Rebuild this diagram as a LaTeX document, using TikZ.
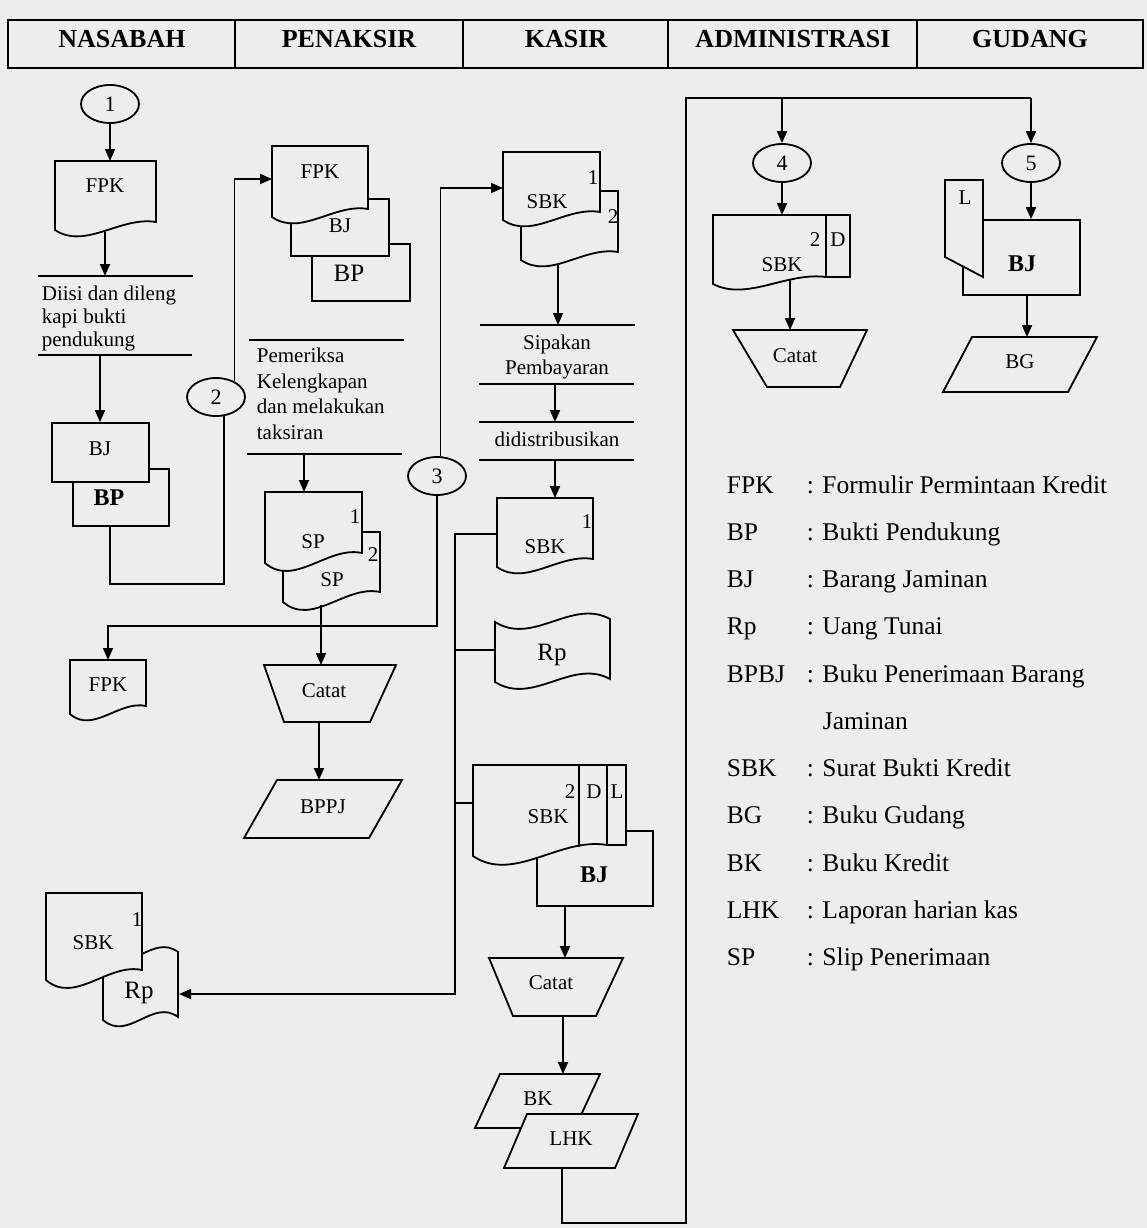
\documentclass[tikz,border=0pt]{standalone}
\usepackage{fontspec}
\setmainfont{Liberation Serif}
\usetikzlibrary{arrows.meta,shapes.geometric}
\definecolor{bg}{RGB}{237,238,236}
% document shape: x0, ytop, x1, y of left bottom corner, rise of right bottom corner
\newcommand\mydoc[5]{\filldraw[shp] (#1,#2) -- (#3,#2) -- (#3,{#4-#5}) .. controls ({#1+0.65*(#3-#1)},{#4-1.75*#5}) and ({#1+0.3*(#3-#1)},{#4+2.5*#5}) .. (#1,#4) -- cycle;}
% punched tape: x0, ytop, x1, ybottom, wave
\newcommand\mytape[5]{\filldraw[shp] (#1,#2) .. controls ({#1+(#3-#1)/3},{#2+#5}) and ({#1+2*(#3-#1)/3},{#2-#5}) .. (#3,{#2-3}) -- (#3,{#4-3}) .. controls ({#1+2*(#3-#1)/3},{#4-#5}) and ({#1+(#3-#1)/3},{#4+#5}) .. (#1,#4) -- cycle;}
% manual operation: x0, x1, ytop, ybottom, inset left, inset right
\newcommand\mytrap[6]{\filldraw[shp] (#1,#3) -- (#2,#3) -- ({#2-#6},#4) -- ({#1+#5},#4) -- cycle;}
% parallelogram: x top left, x top right, ytop, ybottom, skew
\newcommand\mypara[5]{\filldraw[shp] (#1,#3) -- (#2,#3) -- ({#2-#5},#4) -- ({#1-#5},#4) -- cycle;}
\begin{document}
\begin{tikzpicture}[x=1pt,y=-1pt,line width=1.8pt,
  every node/.style={font=\fontsize{21}{25}\selectfont,inner sep=0pt,text depth=0pt},
  shp/.style={draw=black,fill=bg,line width=1.8pt},
  rbox/.style={draw=black,fill=bg,line width=1.8pt,inner sep=0pt},
  conn/.style={draw=black,fill=bg,ellipse,line width=1.8pt,minimum width=58pt,minimum height=38pt,inner sep=0pt,font=\fontsize{22}{26}\selectfont},
  arr/.style={-{Triangle[length=12pt,width=10pt]}},
  hdr/.style={font=\fontsize{26}{30}\selectfont\bfseries},
  bigb/.style={font=\fontsize{24}{28}\selectfont\bfseries},
  bigr/.style={font=\fontsize{25}{28}\selectfont},
  leg/.style={font=\fontsize{25.5}{30}\selectfont,anchor=west}]
\useasboundingbox (0,0) rectangle (1147,1228);
\fill[bg] (0,0) rectangle (1147,1228);

% ---------- header ----------
\draw (8,20) rectangle (1143,68);
\foreach \xx in {235,463,668,917} \draw (\xx,20) -- (\xx,68);
\node[hdr] (hNas) at (122,39) {NASABAH};
\node[hdr] (hPen) at (349,39) {PENAKSIR};
\node[hdr] (hKas) at (566,39) {KASIR};
\node[hdr] (hAdm) at (793,39) {ADMINISTRASI};
\node[hdr] (hGud) at (1030,39) {GUDANG};

% ---------- NASABAH ----------
\node[conn] (c1) at (110,104) {1};
\mydoc{55}{161}{156}{230}{8}
\node (fpk1) at (105,186) {FPK};
\coordinate (fpk1t) at (110,161);
\coordinate (fpk1b) at (105,232);
\draw[arr] (c1.south) -- (fpk1t);
\coordinate (l1aL) at (38,276); \coordinate (l1aR) at (193,276);
\draw (l1aL) -- (l1aR);
\coordinate (l1a) at (105,276);
\draw[arr] (fpk1b) -- (l1a);
\node[anchor=north west,align=left,font=\fontsize{21}{23}\selectfont] (t1) at (41,285) {Diisi dan dileng\\kapi bukti\\pendukung};
\coordinate (l1bL) at (38,355); \coordinate (l1bR) at (192,355);
\draw (l1bL) -- (l1bR);
\coordinate (l1b) at (100,355);
\node[rbox,minimum width=96pt,minimum height=57pt] (bp1) at (121,497.5) {};
\node[rbox,minimum width=97pt,minimum height=59pt] (bj1) at (100.5,452.5) {};
\node (bj1l) at (100,449) {BJ};
\node[bigb] (bp1l) at (109,498) {BP};
\draw[arr] (l1b) -- (l1b |- bj1.north);
\node[conn] (c2) at (216,397) {2};
\coordinate (bp1b) at (110,526);
\coordinate (j2) at (110,584);
\draw (bp1b) -- (j2) -| (c2.-68);
\coordinate (fpk2a) at (272,179);
\draw[arr] (c2.40) |- (fpk2a);

% ---------- PENAKSIR ----------
\node[rbox,minimum width=98pt,minimum height=57pt] (bp2) at (361,272.5) {};
\node[rbox,minimum width=98pt,minimum height=57pt] (bj2) at (340,227.5) {};
\node[bigr] (bp2l) at (349,273) {BP};
\node (bj2l) at (340,226) {BJ};
\mydoc{272}{146}{368}{217}{8}
\node (fpk2) at (320,172) {FPK};
\coordinate (l2aL) at (249,340); \coordinate (l2aR) at (404,340);
\draw (l2aL) -- (l2aR);
\node[anchor=north west,align=left,font=\fontsize{21}{25.7}\selectfont] (t2) at (256,347) {Pemeriksa\\Kelengkapan\\dan melakukan\\taksiran};
\coordinate (l2bL) at (247,454); \coordinate (l2bR) at (402,454);
\draw (l2bL) -- (l2bR);
\coordinate (l2b) at (304,454);
\mydoc{283}{532}{380}{602}{10}
\node (sp2) at (332,580) {SP};
\node (sp2n) at (373,555) {2};
\mydoc{265}{492}{362}{563}{10}
\node (sp1) at (313,542) {SP};
\node (sp1n) at (355,517) {1};
\coordinate (sp1t) at (304,492);
\draw[arr] (l2b) -- (sp1t);
\coordinate (sp2b) at (321,605);
\mytrap{264}{396}{665}{722}{20}{26}
\node (cat1) at (324,691) {Catat};
\coordinate (cat1t) at (321,665);
\coordinate (cat1b) at (319,722);
\mypara{277}{402}{780}{838}{33}
\node (bppj) at (323,807) {BPPJ};
\coordinate (bppjt) at (319,780);
\draw[arr] (cat1b) -- (bppjt);

% ---------- NASABAH lower ----------
\mydoc{70}{660}{146}{714}{8}
\node (fpk3) at (108,685) {FPK};
\coordinate (fpk3t) at (108,660);
\node[conn] (c3) at (437,476) {3};
\coordinate (j3) at (108,626);
\draw[arr] (c3.south) |- (j3) -- (fpk3t);
\draw[arr] (sp2b) -- (cat1t);
\mytape{103}{955}{178}{1020}{22}
\node[bigr] (rp3) at (139,990) {Rp};
\mydoc{46}{893}{142}{980}{10}
\node (sbk4) at (93,943) {SBK};
\node (sbk4n) at (137,920) {1};
\coordinate (rp3r) at (179,994);

% ---------- KASIR ----------
\coordinate (sbk1a) at (503,188);
\draw[arr] (c3.80) |- (sbk1a);
\mydoc{521}{191}{618}{260}{8}
\node (sbk2n) at (613,217) {2};
\mydoc{503}{152}{600}{220}{8}
\node (sbk1) at (547,202) {SBK};
\node (sbk1n) at (593,178) {1};
\coordinate (sbk2b) at (558,264);
\coordinate (l3a) at (558,325);
\draw[arr] (sbk2b) -- (l3a);
\coordinate (l3aL) at (480,325); \coordinate (l3aR) at (635,325);
\draw (l3aL) -- (l3aR);
\node[anchor=north,align=center,font=\fontsize{21}{25}\selectfont] (t3) at (557,334) {Sipakan\\Pembayaran};
\coordinate (l3bL) at (479,384); \coordinate (l3bR) at (634,384);
\draw (l3bL) -- (l3bR);
\coordinate (l3cL) at (479,422); \coordinate (l3cR) at (634,422);
\draw (l3cL) -- (l3cR);
\draw[arr] (555,384) coordinate (l3b) -- (555,422) coordinate (l3c);
\node (t4) at (557,439) {didistribusikan};
\coordinate (l3dL) at (479,460); \coordinate (l3dR) at (634,460);
\draw (l3dL) -- (l3dR);
\mydoc{497}{498}{593}{567}{8}
\node (sbk3) at (545,547) {SBK};
\node (sbk3n) at (587,522) {1};
\draw[arr] (555,460) coordinate (l3d) -- (555,498) coordinate (sbk3t);
\coordinate (sbk3l) at (497,534);
\coordinate (k1) at (455,994);
\coordinate (k2) at (455,650);
\coordinate (k3) at (455,803);
\draw[arr] (sbk3l) -| (k1) -- (rp3r);
\mytape{495}{622}{610}{682}{24}
\node[bigr] (rp2) at (552,652) {Rp};
\coordinate (rp2l) at (495,650);
\draw (k2) -- (rp2l);
\node[rbox,minimum width=116pt,minimum height=75pt] (bj5) at (595,868.5) {};
\filldraw[shp] (473,765) -- (626,765) -- (626,845) -- (607,845) .. controls ({473+0.65*134},{856-1.75*11}) and ({473+0.3*134},{856+2.5*11}) .. (473,856) -- cycle;
\draw (579,765) -- (579,847);
\draw (607,765) -- (607,845);
\node (sbk5n) at (570,792) {2};
\node (sbk5d) at (594,792) {D};
\node (sbk5l) at (617,792) {L};
\node (sbk5) at (548,817) {SBK};
\node[bigb] (bj5l) at (594,875) {BJ};
\coordinate (sbk5w) at (473,803);
\draw (k3) -- (sbk5w);
\coordinate (bj5b) at (565,906);
\coordinate (cat2t) at (565,958);
\draw[arr] (bj5b) -- (cat2t);
\mytrap{489}{623}{958}{1016}{24}{27}
\node (cat2) at (551,983) {Catat};
\coordinate (cat2b) at (563,1016);
\coordinate (bkt) at (563,1074);
\draw[arr] (cat2b) -- (bkt);
\mypara{500}{600}{1074}{1128}{25}
\node (bk) at (538,1099) {BK};
\mypara{527}{638}{1114}{1168}{23}
\node (lhk) at (571,1139) {LHK};
\coordinate (lhkb) at (562,1168);
\coordinate (r1) at (686,1223);
\coordinate (r2) at (686,98);
\coordinate (r3) at (1031,98);
\coordinate (r4) at (782,98);
\draw (lhkb) |- (r1) -- (r2) -- (r3);

% ---------- ADMINISTRASI ----------
\node[conn] (c4) at (782,163) {4};
\node[conn] (c5) at (1031,163) {5};
\draw[arr] (r4) -- (c4.north);
\draw[arr] (r3) -- (c5.north);
\coordinate (sbk6t) at (782,215);
\draw[arr] (c4.south) -- (sbk6t);
\filldraw[shp] (713,215) -- (850,215) -- (850,277) -- (826,277) .. controls ({713+0.65*113},{284-1.75*7}) and ({713+0.3*113},{284+2.5*7}) .. (713,284) -- cycle;
\draw (826,215) -- (826,278);
\node (sbk6n) at (815,240) {2};
\node (sbk6d) at (838,240) {D};
\node (sbk6) at (782,265) {SBK};
\coordinate (sbk6b) at (790,280);
\coordinate (cat3t) at (790,330);
\draw[arr] (sbk6b) -- (cat3t);
\mytrap{733}{867}{330}{387}{34}{27}
\node (cat3) at (795,356) {Catat};

% ---------- GUDANG ----------
\node[rbox,minimum width=117pt,minimum height=75pt] (bj6) at (1021.5,257.5) {};
\draw[arr] (c5.south) -- (c5.south |- bj6.north);
\filldraw[shp] (945,180) -- (983,180) -- (983,277) -- (945,257) -- cycle;
\node (lcard) at (965,198) {L};
\node[bigb] (bj6l) at (1022,264) {BJ};
\coordinate (bj6b) at (1027,295);
\coordinate (bgt) at (1027,337);
\draw[arr] (bj6b) -- (bgt);
\mypara{972}{1097}{337}{392}{29}
\node (bg) at (1020,362) {BG};

% ---------- legend ----------
\foreach \ab/\de/\yy in {FPK/Formulir Permintaan Kredit/485, BP/Bukti Pendukung/532, BJ/Barang Jaminan/579, Rp/Uang Tunai/626, BPBJ/Buku Penerimaan Barang/674, SBK/Surat Bukti Kredit/768, BG/Buku Gudang/815, BK/Buku Kredit/863, LHK/Laporan harian kas/910, SP/Slip Penerimaan/957}{
  \node[leg] (k\ab) at (726,\yy) {\ab};
  \node[leg] (d\ab) at (806,\yy) {: \de};
}
\node[leg] (dJam) at (822,721) {Jaminan};
\end{tikzpicture}
\end{document}
